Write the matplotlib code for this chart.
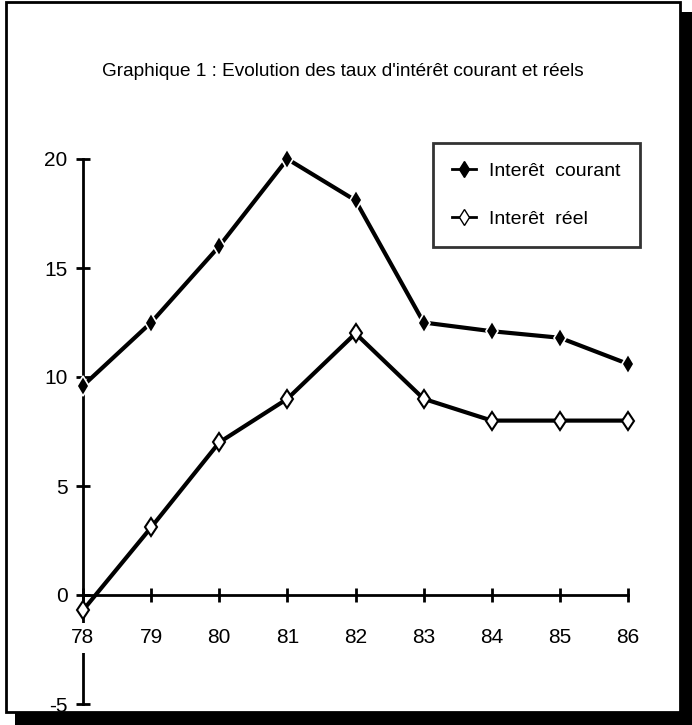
import matplotlib
matplotlib.use("Agg")
import matplotlib.pyplot as plt
from matplotlib.patches import Rectangle
from matplotlib.lines import Line2D

years = [78, 79, 80, 81, 82, 83, 84, 85, 86]
courant = [9.6, 12.5, 16.0, 20.0, 18.1, 12.5, 12.1, 11.8, 10.6]
reel = [-0.7, 3.1, 7.0, 9.0, 12.0, 9.0, 8.0, 8.0, 8.0]
y_ticks = [-5, 0, 5, 10, 15, 20]
title = "Graphique 1 : Evolution des taux d'intérêt courant et réels"
labels = ["Interêt  courant", "Interêt  réel"]

plt.rcParams['font.family'] = ['Liberation Sans', 'DejaVu Sans']
plt.rcParams['axes.unicode_minus'] = False

fig = plt.figure(figsize=(6.92, 7.25), dpi=100)
W, H = 692.0, 725.0

# frame with drop shadow
fig.patches.append(Rectangle((15 / W, 0), 677 / W, (725 - 12) / H, transform=fig.transFigure,
                             facecolor='black', edgecolor='none', zorder=-2))
fig.patches.append(Rectangle((6 / W, 13 / H), 674 / W, 710 / H, transform=fig.transFigure,
                             facecolor='white', edgecolor='black', linewidth=2, zorder=-1))

fig.text(343 / W, 1 - 72 / H, title, ha='center', va='center', fontsize=13.7)

ax = fig.add_axes([83 / W, 1 - 704 / H, 545 / W, 545 / H])
ax.set_zorder(2)
ax.patch.set_visible(False)
ax.set_xlim(78, 86)
ax.set_ylim(-5, 20)
ax.spines['top'].set_visible(False)
ax.spines['right'].set_visible(False)
ax.spines['left'].set_position(('data', 78))
ax.spines['bottom'].set_position(('data', 0))
for s in ('left', 'bottom'):
    ax.spines[s].set_linewidth(2)
ax.set_xticks(years)
ax.set_yticks(y_ticks)
ax.tick_params(direction='inout', length=10, width=2, labelsize=15)
ax.tick_params(axis='x', pad=19)
ax.tick_params(axis='y', pad=6)
# x labels sit on a white patch that breaks the y axis line, as in the original
ax.xaxis.set_zorder(4)
for t in ax.get_xticklabels():
    t.set_bbox(dict(facecolor='white', edgecolor='none', pad=4))

ax.plot(years, courant, color='black', lw=3, marker='d', markersize=10,
        markerfacecolor='black', markeredgecolor='white', markeredgewidth=1.2, clip_on=False, zorder=3)
ax.plot(years, reel, color='black', lw=3, marker='d', markersize=9.5,
        markerfacecolor='white', markeredgecolor='black', markeredgewidth=1.5, clip_on=False, zorder=3)

handles = [Line2D([], [], color='black', lw=2, marker='d', markersize=8, markerfacecolor='black'),
           Line2D([], [], color='black', lw=2, marker='d', markersize=8, markerfacecolor='white',
                  markeredgecolor='black')]
leg = fig.legend(handles, labels, loc='upper left', bbox_to_anchor=(433 / W, 1 - 143 / H),
                 fontsize=14, frameon=True, fancybox=False, handlelength=1.2, handletextpad=0.7,
                 labelspacing=1.55, borderpad=1.0, borderaxespad=0)
leg.set_zorder(5)
leg.get_frame().set_edgecolor('black')
leg.get_frame().set_linewidth(2)

fig.savefig('out.png', dpi=100)
